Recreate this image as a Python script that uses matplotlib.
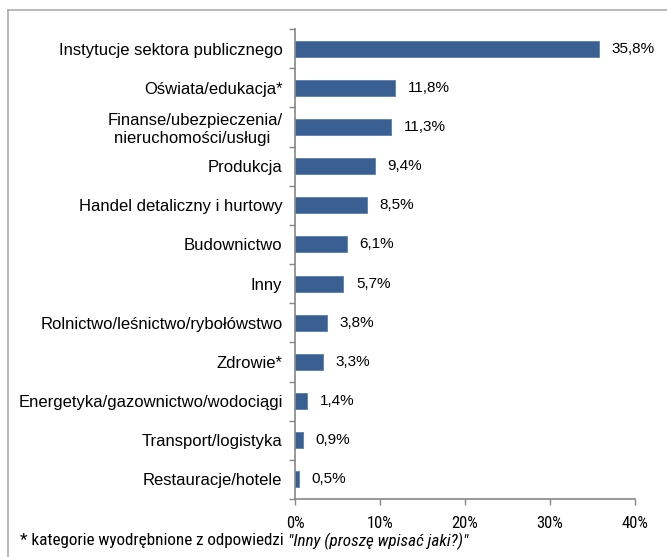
import matplotlib
matplotlib.use("Agg")
import matplotlib.pyplot as plt
from matplotlib.lines import Line2D
from matplotlib.ticker import FixedLocator, PercentFormatter

categories = [
    "Instytucje sektora publicznego",
    "Oświata/edukacja*",
    "Finanse/ubezpieczenia/\nnieruchomości/usługi ",
    "Produkcja",
    "Handel detaliczny i hurtowy",
    "Budownictwo",
    "Inny",
    "Rolnictwo/leśnictwo/rybołówstwo",
    "Zdrowie*",
    "Energetyka/gazownictwo/wodociągi",
    "Transport/logistyka",
    "Restauracje/hotele",
]
values = [35.8, 11.8, 11.3, 9.4, 8.5, 6.1, 5.7, 3.8, 3.3, 1.4, 0.9, 0.5]
x_ticks = [0, 10, 20, 30, 40]
footnote = "* kategorie wyodrębnione z odpowiedzi "
footnote_it = "\"Inny (proszę wpisać jaki?)\""

plt.rcParams["font.family"] = ["Liberation Sans", "DejaVu Sans"]
narrow = ["Roboto Condensed", "Liberation Sans", "DejaVu Sans"]

fig = plt.figure(figsize=(6.67, 5.57), dpi=100)
ax = fig.add_axes([295 / 667, 1 - 499 / 557, 340 / 667, 470 / 557])

pos = list(range(len(categories)))[::-1]
ax.barh(pos, values, height=0.41, color="#3A6093", edgecolor="#5A7FAE", linewidth=0.6)
for p, v in zip(pos, values):
    ax.annotate(f"{v:.1f}%".replace(".", ","), (v, p), xytext=(9, 0),
                textcoords="offset points", va="center", ha="left", fontsize=11)

ax.set_xlim(0, 40)
ax.set_ylim(-0.5, len(categories) - 0.5)
ax.set_xticks(x_ticks)
ax.xaxis.set_major_formatter(PercentFormatter(decimals=0))
ax.set_yticks(pos)
ax.set_yticklabels(categories, multialignment="center")
ax.yaxis.set_minor_locator(FixedLocator([i - 0.5 for i in range(len(categories) + 1)]))
ax.tick_params(axis="y", which="major", length=0, pad=9, labelsize=12)
ax.tick_params(axis="y", which="minor", length=4, color="#868686", width=1)
ax.tick_params(axis="x", length=4, color="#868686", width=1, pad=8, labelsize=12)
for lab in ax.get_xticklabels():
    lab.set_family(narrow)

for s in ["top", "right"]:
    ax.spines[s].set_visible(False)
for s in ["left", "bottom"]:
    ax.spines[s].set_color("#868686")
    ax.spines[s].set_linewidth(1.2)

# frame of the chart area (only top and left edges visible)
fig.add_artist(Line2D([8 / 667, 8 / 667], [0, 1 - 10 / 557], color="#ADADAD", lw=1.2))
fig.add_artist(Line2D([8 / 667, 1], [1 - 10 / 557, 1 - 10 / 557], color="#ADADAD", lw=1.2))

t = fig.text(20 / 667, 1 - 541 / 557, footnote, fontsize=12.3, va="center", family=narrow)
fig.canvas.draw()
bb = t.get_window_extent()
fig.text(bb.x1 / fig.bbox.width, 1 - 541 / 557, footnote_it, fontsize=12.3, va="center",
         style="italic", family=narrow)

fig.savefig("out.png", dpi=100)
